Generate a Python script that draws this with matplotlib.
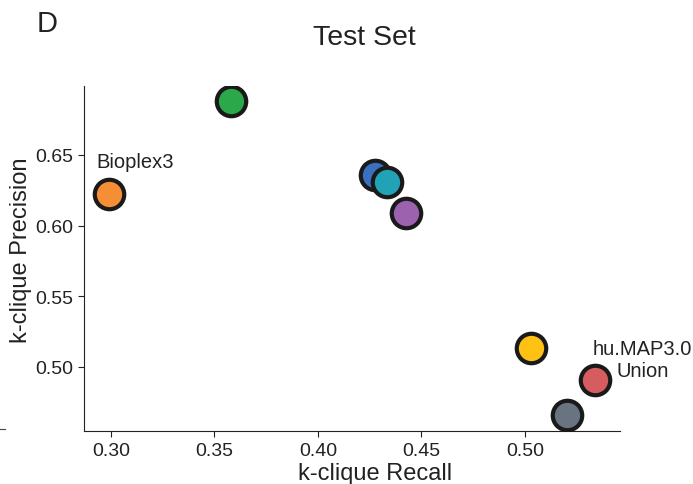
import matplotlib
matplotlib.use("Agg")
import matplotlib.pyplot as plt
from matplotlib.lines import Line2D

plt.rcParams['font.family'] = ['Liberation Sans', 'DejaVu Sans']

# k-clique recall / precision per method on the test set
methods = ["Bioplex3", "green", "blue", "teal", "purple", "yellow", "hu.MAP3.0\nUnion", "gray"]
recall = [0.299, 0.358, 0.4275, 0.4333, 0.4425, 0.5029, 0.5338, 0.5203]
precision = [0.6224, 0.688, 0.636, 0.6306, 0.6087, 0.5134, 0.4908, 0.4661]
colors = ["#F68E36", "#2AA84A", "#3B6FC0", "#22A2B6", "#9C62AE", "#FFC214", "#D75C60", "#6A7480"]

x_ticks = [0.30, 0.35, 0.40, 0.45, 0.50]
y_ticks = [0.50, 0.55, 0.60, 0.65]

TXT = "#222222"

fig = plt.figure(figsize=(6.93, 4.85), dpi=100)
ax = fig.add_axes([0.1212, 0.1093, 0.7735, 0.7113])

for x, y, c in zip(recall, precision, colors):
    ax.scatter(x, y, s=450, color=c, edgecolor="#1a1a1a", linewidth=3.0, zorder=3)

ax.set_xlim(0.287, 0.546)
ax.set_ylim(0.4547, 0.6988)
ax.set_xticks(x_ticks)
ax.set_xticklabels([f"{v:.2f}" for v in x_ticks])
ax.set_yticks(y_ticks)
ax.set_yticklabels([f"{v:.2f}" for v in y_ticks])
ax.tick_params(labelsize=14, colors=TXT, length=4.5)
for s in ["top", "right"]:
    ax.spines[s].set_visible(False)
for s in ["left", "bottom"]:
    ax.spines[s].set_color(TXT)

ax.set_xlabel("k-clique Recall", fontsize=17, color=TXT)
ax.set_ylabel("k-clique Precision", fontsize=17, color=TXT)
ax.xaxis.label.set_va("baseline")
ax.xaxis.set_label_coords(0.543, -0.139)
ax.yaxis.set_label_coords(-0.097, 0.527)

# method annotations
ax.text(0.2932, 0.6415, methods[0], fontsize=14.5, color=TXT,
        ha="left", va="baseline")
for line, yy in zip(methods[6].split("\n"), [0.5092, 0.4936]):
    ax.text(0.557, yy, line, fontsize=14.5, color=TXT, ha="center",
            va="baseline", clip_on=False)

fig.text(0.526, 0.907, "Test Set", fontsize=20.5, ha="center", va="baseline", color=TXT)
fig.text(0.053, 0.934, "D", fontsize=21, ha="left", va="baseline", color=TXT)

fig.add_artist(Line2D([0.0, 0.007], [0.113, 0.113], color="#444444", lw=0.8))

fig.savefig("out.png", dpi=100)
